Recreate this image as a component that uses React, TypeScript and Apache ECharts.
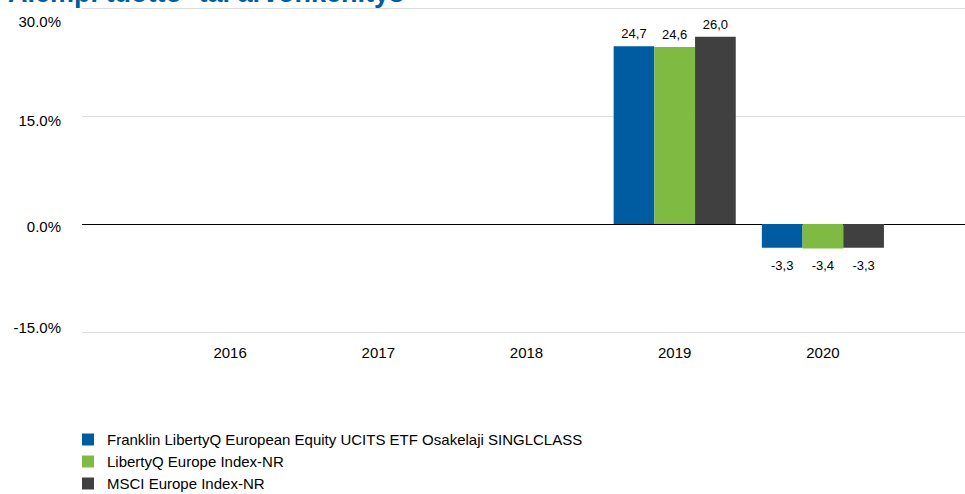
import React, { useEffect, useRef } from "react";
import * as echarts from "echarts";

const titleText = "Aiempi tuotto- tai arvonkehitys";
const categories = ["2016", "2017", "2018", "2019", "2020"];
const seriesNames = [
  "Franklin LibertyQ European Equity UCITS ETF Osakelaji SINGLCLASS",
  "LibertyQ Europe Index-NR",
  "MSCI Europe Index-NR",
];
const fundValues: (number | null)[] = [null, null, null, 24.7, -3.3];
const indexValues: (number | null)[] = [null, null, null, 24.6, -3.4];
const msciValues: (number | null)[] = [null, null, null, 26.0, -3.3];
const seriesColors = ["#005ca1", "#7fbb42", "#404040"];
const yTicks = { min: -15, max: 30, interval: 15 };

const FONT = '"Liberation Sans", Arial, sans-serif';

const labelStyle = (pad: number[]) => ({
  fontSize: 15,
  fontFamily: FONT,
  color: "#000",
  padding: pad,
});

export default function App() {
  const ref = useRef<HTMLDivElement>(null);
  useEffect(() => {
    document.body.style.margin = "0";
    const chart = echarts.init(ref.current!, null, { renderer: "svg" });
    const allValues = [fundValues, indexValues, msciValues];
    const option: any = {
      animation: false,
      backgroundColor: "#ffffff",
      textStyle: { fontFamily: FONT },
      graphic: [
        {
          type: "text",
          x: 8,
          y: 6,
          style: {
            text: titleText,
            font: 'bold 27px "Liberation Sans", Arial, sans-serif',
            fill: "#005da0",
            verticalAlign: "bottom",
          },
          z: 10,
        },
      ],
      grid: [
        { left: 82, right: -7, top: 8, bottom: 162, containLabel: false },
        { left: 156, right: 68, top: 8, bottom: 162, containLabel: false },
      ],
      xAxis: [
        { type: "value", gridIndex: 0, min: 0, max: 1, show: false },
        {
          type: "category",
          gridIndex: 1,
          data: categories,
          axisLine: { show: false },
          axisTick: { show: false },
          axisLabel: { color: "#000", fontSize: 15, fontFamily: FONT, margin: 13 },
        },
      ],
      yAxis: [
        {
          type: "value",
          gridIndex: 0,
          min: yTicks.min,
          max: yTicks.max,
          interval: yTicks.interval,
          axisLine: { show: false },
          axisTick: { show: false },
          axisLabel: {
            color: "#000",
            fontSize: 15,
            fontFamily: FONT,
            margin: 21,
            formatter: (v: number) => {
              const key = v === 30 ? "p30" : v === 15 ? "p15" : v === 0 ? "p0" : "n15";
              return `{${key}|${v.toFixed(1)}%}`;
            },
            rich: {
              p30: labelStyle([26, 0, 0, 0]),
              p15: labelStyle([8, 0, 0, 0]),
              p0: labelStyle([4, 0, 0, 0]),
              n15: labelStyle([0, 0, 10, 0]),
            },
          },
          splitLine: {
            show: true,
            lineStyle: { color: ["#dcdcdc", "#000000", "#dcdcdc", "#dcdcdc"], width: 1 },
          },
        },
        {
          type: "value",
          gridIndex: 1,
          min: yTicks.min,
          max: yTicks.max,
          interval: yTicks.interval,
          show: false,
          splitLine: { show: false },
        },
      ],
      legend: {
        orient: "vertical",
        left: 82,
        top: 432,
        padding: 0,
        itemWidth: 12,
        itemHeight: 12,
        itemGap: 7,
        icon: "rect",
        textStyle: { color: "#000", fontSize: 15, fontFamily: FONT, padding: [0, 0, 0, 8] },
        data: seriesNames,
      },
      series: seriesNames.map((name, si) => ({
        name,
        type: "bar",
        xAxisIndex: 1,
        yAxisIndex: 1,
        barWidth: 40.7,
        barGap: "0%",
        itemStyle: { color: seriesColors[si] },
        data: allValues[si].map((v) =>
          v == null
            ? null
            : {
                value: v,
                label: {
                  show: true,
                  position: v < 0 ? "bottom" : "top",
                  distance: v < 0 ? 11 : 6,
                  color: "#000",
                  fontSize: 13,
                  fontFamily: FONT,
                  formatter: (p: any) => Number(p.value).toFixed(1).replace(".", ","),
                },
              }
        ),
      })),
    };
    chart.setOption(option);
    return () => chart.dispose();
  }, []);
  return <div ref={ref} style={{ width: 965, height: 494 }} />;
}
